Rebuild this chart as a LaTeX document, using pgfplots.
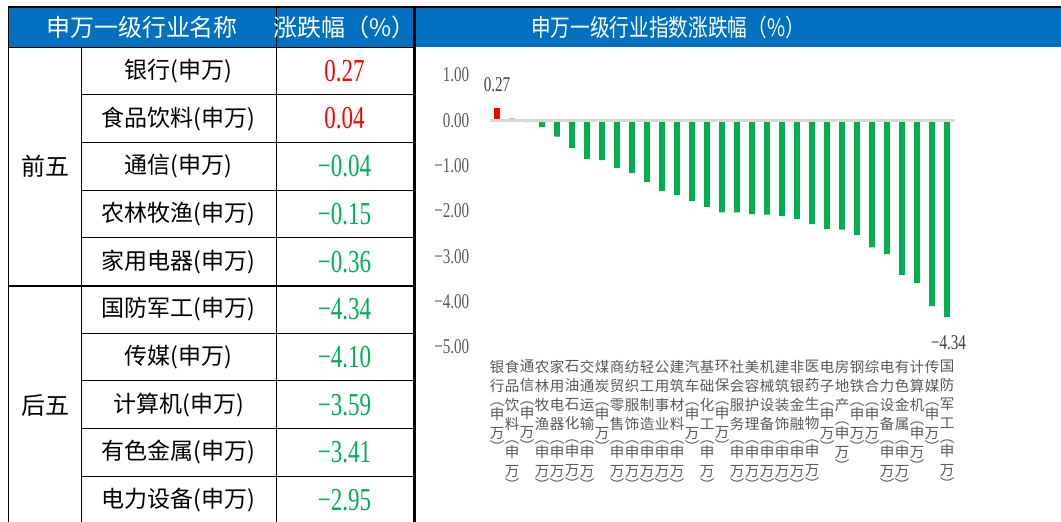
\documentclass[border=0pt]{standalone}
\usepackage{fontspec}
\usepackage{pgfplots}
\pgfplotsset{compat=1.18}
\setmainfont{Liberation Serif}
\newfontfamily\cjk{Noto Sans CJK SC}
\newfontfamily\cjkn[FakeStretch=0.82]{Noto Sans CJK SC}
\newfontfamily\numf[FakeStretch=0.72]{Liberation Serif}
\definecolor{hdr}{HTML}{0070C0}
\definecolor{upred}{HTML}{FF0000}
\definecolor{dngreen}{HTML}{00B050}
\definecolor{tickgray}{HTML}{595959}
\definecolor{labgray}{HTML}{404040}
\definecolor{zerol}{HTML}{D9D9D9}
\newcommand\vt{\\[-5pt]︵\\[-5pt]申\\万\\[-5pt]︶}
\begin{document}
\begin{tikzpicture}
\useasboundingbox (0pt,0pt) rectangle (1061pt,-522pt);
\fill[white] (0pt,0pt) rectangle (1061pt,-522pt);
\begin{scope}[x=1pt,y=-1pt]
\fill[hdr] (8,7) rectangle (1061,47);
\draw[line width=1.2pt] (8,7) -- (1061,7);
\draw[line width=1pt] (8,47) -- (414,47);
\draw[line width=1pt] (8,7) -- (8,530);
\draw[line width=1pt] (81,47) -- (81,530);
\draw[line width=1pt] (276,7) -- (276,530);
\draw[line width=2.5pt] (414.5,7) -- (414.5,530);
\foreach \k in {1,2,3,4,6,7,8,9} {
  \draw[line width=1pt] (81,{47+47.7*\k}) -- (414,{47+47.7*\k});
}
\draw[line width=2pt] (8,285.5) -- (414,285.5);
\node[font=\cjk\fontsize{24}{24}\selectfont, text=white] at (142,27) {申万一级行业名称};
\node[font=\cjk\fontsize{24}{24}\selectfont, text=white] at (344.5,27) {涨跌幅（\%）};
\node[font=\cjkn\fontsize{24}{24}\selectfont, text=white] at (668,27) {申万一级行业指数涨跌幅（\%）};
\node[font=\cjk\fontsize{24}{24}\selectfont] at (45,166) {前五};
\node[font=\cjk\fontsize{24}{24}\selectfont] at (45,405) {后五};
\foreach \n/\v/\c [count=\i from 0] in {
  银行(申万)/0.27/upred, 食品饮料(申万)/0.04/upred, 通信(申万)/−0.04/dngreen,
  农林牧渔(申万)/−0.15/dngreen, 家用电器(申万)/−0.36/dngreen,
  国防军工(申万)/−4.34/dngreen, 传媒(申万)/−4.10/dngreen, 计算机(申万)/−3.59/dngreen,
  有色金属(申万)/−3.41/dngreen, 电力设备(申万)/−2.95/dngreen} {
  \node[font=\cjk\fontsize{23}{23}\selectfont] at (178.5,{47+47.7*\i+23.85}) {\n};
  \node[font=\numf\fontsize{32}{32}\selectfont, text=\c] at (344.5,{47+47.7*\i+23.85}) {\v};
}
\end{scope}
\begin{axis}[
  at={(489.5pt,-347pt)}, anchor=south west,
  scale only axis, width=465pt, height=272pt,
  xmin=-0.5, xmax=30.5, ymin=-5, ymax=1,
  ytick={-5,-4,-3,-2,-1,0,1},
  yticklabels={−5.00,−4.00,−3.00,−2.00,−1.00,0.00,1.00},
  yticklabel style={font=\numf\fontsize{21}{21}\selectfont, text=tickgray, anchor=east, inner sep=0pt, xshift=-20pt},
  xtick={0,...,30},
  xticklabels={{银\\行\vt},{食\\品\\饮\\料\vt},{通\\信\vt},{农\\林\\牧\\渔\vt},{家\\用\\电\\器\vt},{石\\油\\石\\化\vt},{交\\通\\运\\输\vt},{煤\\炭\vt},{商\\贸\\零\\售\vt},{纺\\织\\服\\饰\vt},{轻\\工\\制\\造\vt},{公\\用\\事\\业\vt},{建\\筑\\材\\料\vt},{汽\\车\vt},{基\\础\\化\\工\vt},{环\\保\vt},{社\\会\\服\\务\vt},{美\\容\\护\\理\vt},{机\\械\\设\\备\vt},{建\\筑\\装\\饰\vt},{非\\银\\金\\融\vt},{医\\药\\生\\物\vt},{电\\子\vt},{房\\地\\产\vt},{钢\\铁\vt},{综\\合\vt},{电\\力\\设\\备\vt},{有\\色\\金\\属\vt},{计\\算\\机\vt},{传\\媒\vt},{国\\防\\军\\工\vt}},
  xticklabel style={font=\cjk\fontsize{14.5}{19}\selectfont, text=tickgray, align=center, anchor=north, inner sep=0pt, yshift=-13pt},
  axis line style={draw=none},
  major tick length=0pt,
  ybar, bar width=5.6pt,
  clip=false,
]
\addplot[fill=upred, draw=none, bar shift=0pt] coordinates {(0,0.27) (1,0.04)};
\addplot[fill=dngreen, draw=none, bar shift=0pt] coordinates {
(2,-0.04) (3,-0.15) (4,-0.36) (5,-0.61) (6,-0.85) (7,-0.88) (8,-1.05) (9,-1.16)
(10,-1.36) (11,-1.56) (12,-1.65) (13,-1.78) (14,-1.91) (15,-2.03) (16,-2.03)
(17,-2.07) (18,-2.08) (19,-2.11) (20,-2.18) (21,-2.29) (22,-2.40) (23,-2.41)
(24,-2.53) (25,-2.80) (26,-2.95) (27,-3.41) (28,-3.59) (29,-4.10) (30,-4.34)};
\draw[zerol, line width=2.5pt] (axis cs:-0.5,0) -- (axis cs:30.5,0);
\node[font=\numf\fontsize{21}{21}\selectfont, text=labgray] at (axis cs:0,0.78) {0.27};
\node[font=\numf\fontsize{21}{21}\selectfont, text=labgray] at (axis cs:30.1,-4.9) {−4.34};
\end{axis}
\end{tikzpicture}
\end{document}
